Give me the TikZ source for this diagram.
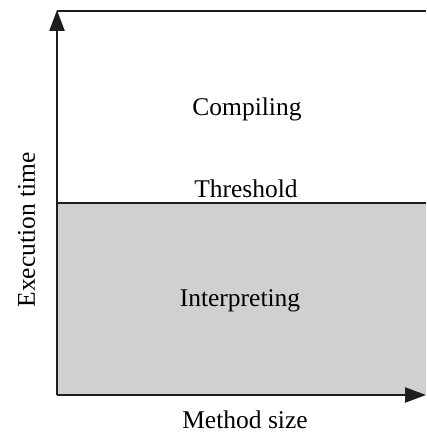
\documentclass[tikz,border=0pt]{standalone}
\usepackage{fontspec}
\setmainfont{Liberation Serif}
\usepackage{tikz}
\usepackage{xcolor}
\usetikzlibrary{positioning, arrows.meta}
\definecolor{axisgray}{RGB}{30, 30, 30}
\definecolor{interpfill}{RGB}{208, 208, 208}
\tikzset{
    axisline/.style={line width=2.4pt, draw=axisgray, -{Triangle[length=21pt, width=15pt]}},
    borderline/.style={line width=2.4pt, draw=axisgray},
    regionlabel/.style={anchor=base, inner sep=0pt, font=\fontsize{25.5}{30}\selectfont},
    axislabel/.style={regionlabel}
}

\begin{document}
\begin{tikzpicture}[x=1pt, y=1pt]
    \useasboundingbox (0,0) rectangle (426,433);
    \coordinate (origin) at (57,38);
    \coordinate (ytip) at (57,423);
    \coordinate (xtip) at (426,38);
    \coordinate (thrleft) at (57,230);
    \coordinate (thrright) at (426,230);
    \coordinate (topleft) at (57,422);
    \coordinate (topright) at (426,422);
    % interpreting region
    \fill[interpfill] (origin) rectangle (thrright);
    \draw[borderline] (thrleft) -- (thrright);
    \draw[borderline] (topleft) -- (topright);
    \draw[axisline] (origin) -- (ytip);
    \draw[axisline] (origin) -- (xtip);
    % labels
    \node[regionlabel] (compiling) at (247,317) {Compiling};
    \node[regionlabel] (threshold) at (246,235) {Threshold};
    \node[regionlabel] (interp) at (240,126) {Interpreting};
    \node[axislabel] (xlabel) at (245,5) {Method size};
    \node[axislabel, rotate=90] (ylabel) at (35,203) {Execution time};
\end{tikzpicture}
\end{document}
